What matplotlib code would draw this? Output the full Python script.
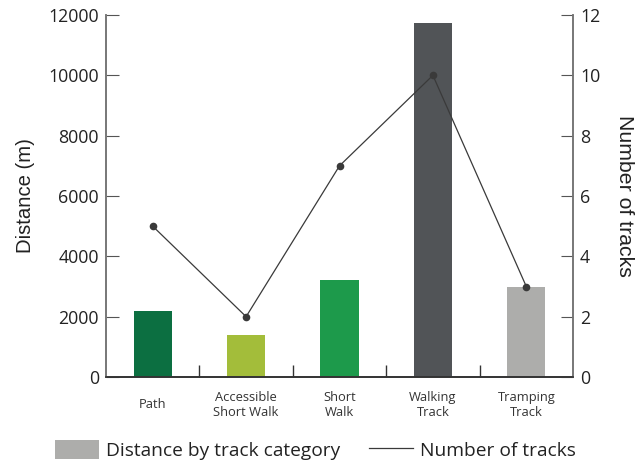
import matplotlib
matplotlib.use("Agg")
import matplotlib.pyplot as plt
from matplotlib.patches import Patch
from matplotlib.lines import Line2D

categories = ["Path", "Accessible\nShort Walk", "Short\nWalk", "Walking\nTrack", "Tramping\nTrack"]
distance_m = [2200, 1400, 3200, 11750, 3000]
track_counts = [5, 2, 7, 10, 3]
bar_colors = ["#0c6f41", "#a3bd3a", "#1d9a4b", "#515457", "#adadab"]

plt.rcParams["font.family"] = ["Open Sans", "DejaVu Sans"]

fig = plt.figure(figsize=(6.38, 4.62), dpi=100)
ax = fig.add_axes([106 / 638, 1 - 377 / 462, 467 / 638, 362 / 462])
ax2 = ax.twinx()

x = list(range(len(categories)))
ax.bar(x, distance_m, width=0.41, color=bar_colors, zorder=2)
ax.set_xlim(-0.5, 4.5)
ax.set_ylim(0, 12000)
ax.set_yticks(range(0, 12001, 2000))
ax2.set_ylim(0, 12)
ax2.set_yticks(range(0, 13, 2))

ax2.plot(x, track_counts, color="#3a3a3a", lw=0.9, marker="o", ms=5.5,
         markerfacecolor="#3a3a3a", markeredgewidth=0, zorder=3)

# category boundaries as x ticks, labels drawn as minor ticks at centres
ax.set_xticks([0.5, 1.5, 2.5, 3.5])
ax.set_xticklabels([])
ax.set_xticks(x, minor=True)
ax.set_xticklabels(categories, minor=True, fontsize=9.3, color="#333333",
                   linespacing=1.15)
for lbl in ax.get_xticklabels(minor=True):
    lbl.set_verticalalignment("center")
ax.tick_params(axis="x", which="major", direction="in", length=9,
               color="#333333", width=1)
ax.tick_params(axis="x", which="minor", length=0, pad=20)

ax.tick_params(axis="y", direction="in", length=9, color="#555555",
               labelsize=12.8, labelcolor="#222222", pad=5)
ax2.tick_params(axis="y", direction="in", length=9, color="#555555",
                labelsize=12.8, labelcolor="#222222", pad=5)

for a in (ax, ax2):
    a.spines["top"].set_visible(False)
    a.spines["left"].set_color("#777777")
    a.spines["right"].set_color("#777777")
    a.spines["bottom"].set_color("#333333")
    a.spines["left"].set_linewidth(1.2)
    a.spines["right"].set_linewidth(1.2)
    a.spines["bottom"].set_linewidth(1.2)

ax.set_ylabel("Distance (m)", fontsize=14.6, color="#222222", labelpad=10,
              family="Liberation Sans")
ax2.set_ylabel("Number of tracks", fontsize=15.3, color="#222222",
               rotation=-90, labelpad=24, family="Liberation Sans")

handles = [Patch(facecolor="#adadab", edgecolor="none"),
           Line2D([0], [0], color="#3a3a3a", lw=0.9)]
labels = ["Distance by track category", "Number of tracks"]
fig.legend(handles, labels, loc="lower left",
           bbox_to_anchor=(55 / 638, 2 / 462), borderpad=0, borderaxespad=0,
           ncol=2, frameon=False, fontsize=13.8, handlelength=2.27,
           handleheight=1.13, columnspacing=1.5, handletextpad=0.4,
           labelcolor="#222222")

fig.savefig("out.png", dpi=100)
